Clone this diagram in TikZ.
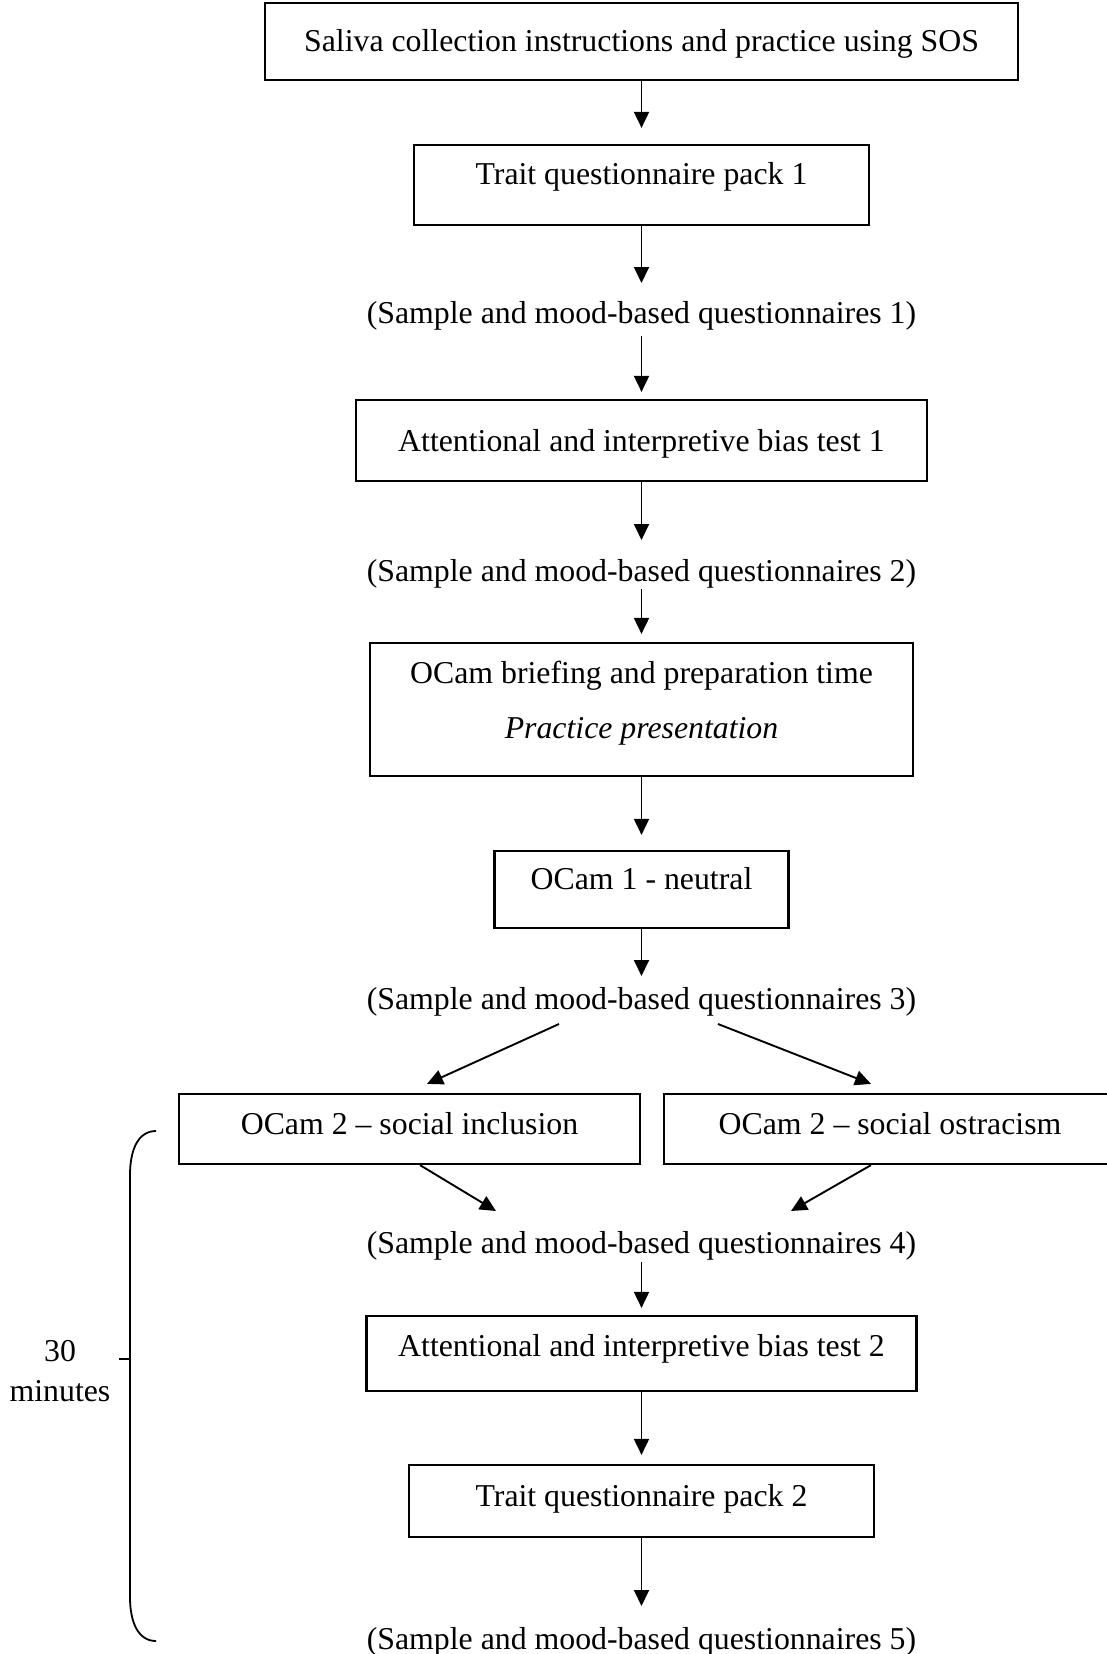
\documentclass[tikz,border=0pt]{standalone}
\usepackage{fontspec}
\setmainfont{Liberation Serif}
\usetikzlibrary{arrows.meta}
\begin{document}
\begin{tikzpicture}[x=1pt,y=-1pt,
  font=\fontsize{31.8}{38}\selectfont,
  box/.style={draw, line width=2.2pt, inner sep=0pt, text height=28pt, text depth=7pt},
  lbl/.style={inner sep=0pt, text height=28pt, text depth=7pt},
  arr/.style={line width=1.9pt, -{Triangle[length=16pt,width=15pt]}},
  bracket/.style={line width=1.8pt}]
\useasboundingbox (0,0) rectangle (1106,1654);

% main sequence
\node[box, minimum width=753pt, minimum height=77pt] (b1) at (641.5,41.5)
  {Saliva collection instructions and practice using SOS};
\node[box, minimum width=455pt, minimum height=80pt, text depth=29pt] (b2) at (641.5,185)
  {Trait questionnaire pack 1};
\node[lbl] (s1) at (641.5,313) {(Sample and mood-based questionnaires 1)};
\node[box, minimum width=571pt, minimum height=81pt] (b3) at (641.5,440.5)
  {Attentional and interpretive bias test 1};
\node[lbl] (s2) at (641.5,571) {(Sample and mood-based questionnaires 2)};
\node[box, minimum width=543pt, minimum height=133pt, text height=65pt] (b4) at (641.5,709.5)
  {\begin{tabular}[b]{@{}c@{}}OCam briefing and preparation time\\[17pt]\textit{Practice presentation}\end{tabular}};
\node[box, minimum width=294pt, minimum height=77pt, text depth=28pt] (b5) at (641.5,889.5)
  {OCam 1 - neutral};
\node[lbl] (s3) at (641.5,999) {(Sample and mood-based questionnaires 3)};
\node[box, minimum width=461pt, minimum height=70pt, text depth=17pt] (b6l) at (409.5,1129)
  {OCam 2 -- social inclusion};
\node[box, minimum width=452pt, minimum height=70pt, text depth=17pt] (b6r) at (890,1129)
  {OCam 2 -- social ostracism};
\node[lbl] (s4) at (641.5,1243) {(Sample and mood-based questionnaires 4)};
\node[box, minimum width=550pt, minimum height=75pt, text depth=22pt] (b7) at (641.5,1353.5)
  {Attentional and interpretive bias test 2};
\node[box, minimum width=465pt, minimum height=72pt, text depth=17pt] (b8) at (641.5,1501)
  {Trait questionnaire pack 2};
\node[lbl] (s5) at (641.5,1639) {(Sample and mood-based questionnaires 5)};

% connectors
\draw[arr] (b1.south) -- ([yshift=16pt]b2.north);
\draw[arr] (b2.south) -- ([yshift=30pt]s1.center);
\draw[arr] ([yshift=-23pt]s1.center) -- ([yshift=7pt]b3.north);
\draw[arr] (b3.south) -- ([yshift=31pt]s2.center);
\draw[arr] ([yshift=-18pt]s2.center) -- ([yshift=8pt]b4.north);
\draw[arr] (b4.south) -- ([yshift=15pt]b5.north);
\draw[arr] (b5.south) -- ([yshift=23pt]s3.center);
\draw[arr] ([xshift=-82.5pt,yshift=-25pt]s3.center) -- ([xshift=17.5pt,yshift=9pt]b6l.north);
\draw[arr] ([xshift=76.5pt,yshift=-25pt]s3.center) -- ([xshift=-19pt,yshift=9pt]b6r.north);
\draw[arr] ([xshift=10.5pt]b6l.south) -- ([xshift=-145.5pt,yshift=32pt]s4.center);
\draw[arr] ([xshift=-19pt]b6r.south) -- ([xshift=149.5pt,yshift=32pt]s4.center);
\draw[arr] ([yshift=-19pt]s4.center) -- ([yshift=7pt]b7.north);
\draw[arr] (b7.south) -- ([yshift=9pt]b8.north);
\draw[arr] (b8.south) -- ([yshift=33pt]s5.center);

% time bracket
\draw[bracket] (156,1131) .. controls (138,1131) and (130,1150) .. (130,1175)
  -- (130,1597) .. controls (130,1622) and (138,1641) .. (156,1641);
\draw[bracket] (119,1359) -- (130,1359);
\node[align=center, inner sep=0pt, font=\fontsize{31.8}{40}\selectfont] (dur) at (60,1371) {30\\minutes};
\end{tikzpicture}
\end{document}
